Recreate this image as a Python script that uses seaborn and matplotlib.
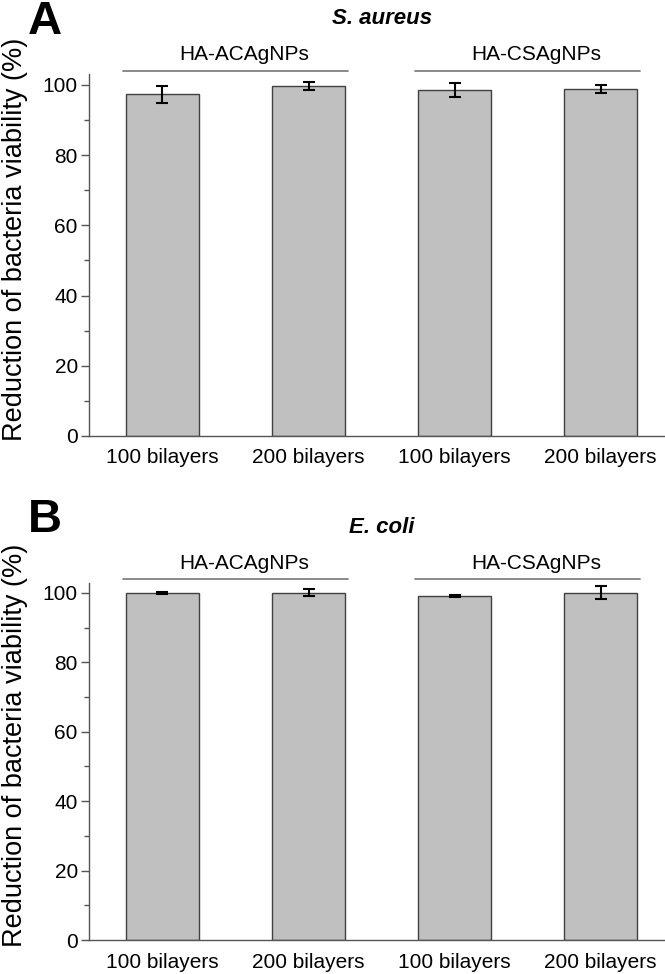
import pandas as pd
import matplotlib.pyplot as plt
import seaborn as sns
from matplotlib.ticker import MultipleLocator

# --- data ---
samples = ['AC-100', 'AC-200', 'CS-100', 'CS-200']
tick_labels = ['100 bilayers', '200 bilayers', '100 bilayers', '200 bilayers']
groups = ['HA-ACAgNPs', 'HA-CSAgNPs']

aureus_mean = [97.3, 99.8, 98.6, 98.8]
aureus_sd = [2.4, 1.1, 1.9, 1.05]

coli_mean = [100.0, 100.1, 99.2, 100.1]
coli_sd = [0.2, 1.0, 0.3, 1.8]

sns.set_style('ticks')
plt.rcParams['font.family'] = ['Liberation Sans', 'DejaVu Sans']
plt.rcParams['text.color'] = 'black'
plt.rcParams['axes.labelcolor'] = 'black'
plt.rcParams['xtick.labelcolor'] = 'black'
plt.rcParams['ytick.labelcolor'] = 'black'

fig = plt.figure(figsize=(6.65, 9.74), dpi=100)

bar_color = '#c0c0c0'
edge_color = '#404040'
spine_color = '#555555'

panels = [
    ('A', 'S. aureus', aureus_mean, aureus_sd, [0.1338, 0.5524, 0.8662, 0.3712], 0.977),
    ('B', 'E. coli', coli_mean, coli_sd, [0.1338, 0.0349, 0.8662, 0.3670], 0.466),
]

for letter, title, means, sds, rect, letter_y in panels:
    ax = fig.add_axes(rect)
    df = pd.DataFrame({'sample': samples, 'value': means})
    sns.barplot(data=df, x='sample', y='value', order=samples, color=bar_color,
                edgecolor=edge_color, linewidth=1.0, width=0.5, saturation=1,
                errorbar=None, ax=ax)
    ax.errorbar(range(len(samples)), means, yerr=sds, fmt='none', ecolor='black',
                elinewidth=1.5, capsize=4, capthick=1.5, clip_on=False, zorder=5)

    ax.set_xlim(-0.503, 3.44)
    ax.set_ylim(0, 103)
    ax.yaxis.set_major_locator(MultipleLocator(20))
    ax.yaxis.set_minor_locator(MultipleLocator(10))
    ax.set_xticks(range(len(samples)))
    ax.set_xticklabels(tick_labels, fontsize=15)
    ax.tick_params(axis='x', length=0, pad=9)
    ax.tick_params(axis='y', which='major', length=6, width=1, color=spine_color,
                   labelsize=15, pad=2)
    ax.tick_params(axis='y', which='minor', length=3.5, width=1, color=spine_color)
    sns.despine(ax=ax)
    for s in ['left', 'bottom']:
        ax.spines[s].set_color(spine_color)
        ax.spines[s].set_linewidth(1.0)
    ax.set_xlabel('')
    ax.set_ylabel('Reduction of bacteria viability (%)', fontsize=19.5)
    ax.yaxis.set_label_coords(-0.105, 0.545)

    # group brackets
    for gi, gname in enumerate(groups):
        center = 0.5 + 2 * gi
        ax.plot([center - 0.77, center + 0.77], [104, 104], color='#808080',
                lw=1.3, clip_on=False)
        ax.text(center + 0.06, 108.6, gname, ha='center', va='center', fontsize=15)

    ax.text(1.5, 119, title, ha='center', va='center', fontsize=16,
            fontweight='bold', fontstyle='italic')
    fig.text(0.068, letter_y, letter, ha='center', va='center', fontsize=34,
             fontweight='bold')

fig.savefig('out.png', dpi=100)
